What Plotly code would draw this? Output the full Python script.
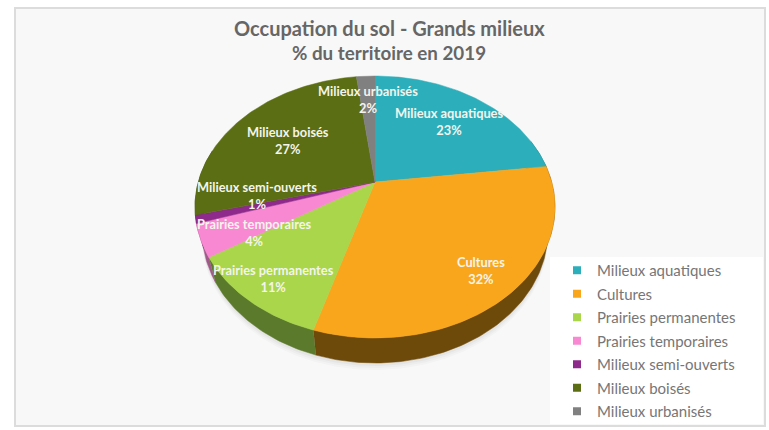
import math
import plotly.graph_objects as go

# --- data
categories = ["Milieux aquatiques", "Cultures", "Prairies permanentes", "Prairies temporaires",
              "Milieux semi-ouverts", "Milieux boisés", "Milieux urbanisés"]
values = [23, 31.6, 11.4, 4, 1, 27, 2]
colors = ["#2CAEBB", "#FAA61C", "#A9D64B", "#F988D3", "#8E2A8B", "#5B6E13", "#808080"]
wall_colors = ["#1C6E76", "#6E4A0A", "#5C7A2C", "#A05A8A", "#5A1A58", "#3A470C", "#505050"]
title_lines = ["Occupation du sol - Grands milieux", "% du territoire en 2019"]

# --- layout: label centres, perspective projection of the tilted disc
label_xy = [(449, 121), (481, 270), (273, 278), (254, 232), (257, 195), (288, 140), (368, 99)]
CX, CY, K, A, C = 375.0, 182.0, 176.7, -91.5, 0.1908
DEPTH, SHRINK = 25.0, 0.96


def project(theta):
    u, v = math.sin(theta), math.cos(theta)
    w = 1 + C * v
    return CX + K * u / w, (A * v + CY) / w


def lower(x, y):
    return CX + (x - CX) * SHRINK, y + DEPTH


def arc(a0, a1):
    n = max(2, int(abs(a1 - a0) / 1.0) + 1)
    return [project(math.radians(a0 + (a1 - a0) * i / (n - 1))) for i in range(n)]


fig = go.Figure()
total = sum(values)
bounds = [0.0]
for val in values:
    bounds.append(bounds[-1] + 360.0 * val / total)

# soft shadow under the pie
for off, alpha in [(7, 0.025), (5, 0.03), (3, 0.04)]:
    ring = [lower(*p) for p in arc(60, 300)]
    fig.add_trace(go.Scatter(
        x=[p[0] for p in ring], y=[p[1] + off for p in ring], mode="lines", fill="toself",
        line=dict(width=0), fillcolor=f"rgba(60,60,60,{alpha})", showlegend=False, hoverinfo="skip"))

# side wall (only the front half of the disc shows)
for i, name in enumerate(categories):
    a0, a1 = max(bounds[i], 70), min(bounds[i + 1], 285)
    if a1 <= a0:
        continue
    top = arc(a0, a1)
    low = [lower(*p) for p in top][::-1]
    poly = top + low
    fig.add_trace(go.Scatter(
        x=[p[0] for p in poly], y=[p[1] for p in poly], mode="lines", fill="toself",
        line=dict(width=0.5, color=wall_colors[i]), fillcolor=wall_colors[i], legendgroup=name,
        showlegend=False, hoverinfo="skip"))

# top face
for i, name in enumerate(categories):
    poly = [(CX, CY)] + arc(bounds[i], bounds[i + 1]) + [(CX, CY)]
    fig.add_trace(go.Scatter(
        x=[p[0] for p in poly], y=[p[1] for p in poly], mode="lines", fill="toself",
        line=dict(width=0.5, color=colors[i]), fillcolor=colors[i], legendgroup=name,
        showlegend=False, name=name, hoverinfo="text", text=f"{name}: {round(values[i])}%"))

# legend entries
for i, name in enumerate(categories):
    fig.add_trace(go.Scatter(
        x=[None], y=[None], mode="markers", name=name, legendgroup=name,
        marker=dict(symbol="square", size=8, color=colors[i])))

annotations = [
    dict(x=389, y=28, text=f"<b>{title_lines[0]}</b>", font=dict(size=20, color="#666666", family="Lato, sans-serif")),
    dict(x=389, y=52, text=f"<b>{title_lines[1]}</b>", font=dict(size=18.8, color="#666666", family="Lato, sans-serif")),
]
for i, name in enumerate(categories):
    x, y = label_xy[i]
    annotations.append(dict(
        x=x, y=y, text=f"<b>{name}<br>{round(values[i])}%</b>", align="center",
        font=dict(size=12.8, color="#F4F4EC", family="Lato, sans-serif")))
for a in annotations:
    a.update(xref="x", yref="y", showarrow=False, xanchor="center", yanchor="middle")

fig.update_layout(
    width=769, height=430, margin=dict(l=0, r=0, t=0, b=0), autosize=False,
    paper_bgcolor="white", plot_bgcolor="white",
    xaxis=dict(range=[0, 769], visible=False, fixedrange=True),
    yaxis=dict(range=[430, 0], visible=False, fixedrange=True),
    annotations=annotations,
    shapes=[
        dict(type="rect", xref="x", yref="y", x0=15, y0=8, x1=765, y1=426, layer="below",
             fillcolor="#F8F8F8", line=dict(color="#DCDCDC", width=2)),
        dict(type="rect", xref="x", yref="y", x0=550, y0=257, x1=763, y1=424, layer="below",
             fillcolor="#FFFFFF", line=dict(width=0)),
    ],
    legend=dict(
        x=557 / 769, y=1 - 254 / 430, xanchor="left", yanchor="top", bgcolor="rgba(0,0,0,0)", tracegroupgap=1,
        font=dict(size=15, color="#767676", family="Lato, sans-serif"), itemclick=False, itemdoubleclick=False),
    showlegend=True,
)
fig.write_html("out.html", config={"displayModeBar": False},
               post_script="document.body.style.margin='0';document.documentElement.style.overflow='hidden';")
